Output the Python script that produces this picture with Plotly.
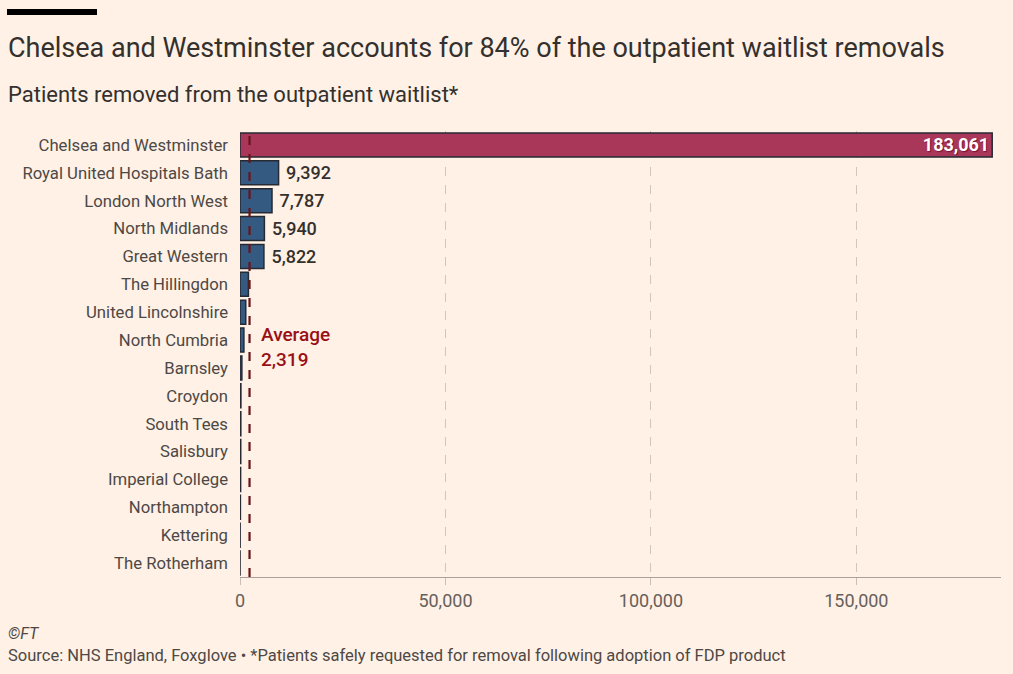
import plotly.graph_objects as go

# hospital trusts, ordered top to bottom as in the chart
trusts = ['Chelsea and Westminster', 'Royal United Hospitals Bath', 'London North West',
          'North Midlands', 'Great Western', 'The Hillingdon', 'United Lincolnshire',
          'North Cumbria', 'Barnsley', 'Croydon', 'South Tees', 'Salisbury',
          'Imperial College', 'Northampton', 'Kettering', 'The Rotherham']
# patients removed from the outpatient waitlist (small ones)
removed = [183061, 9392, 7787, 5940, 5822, 2050, 1400, 950, 450,
           220, 200, 180, 150, 100, 30, 10]
average = 2319
tick_vals = [0, 50000, 100000, 150000]

bg = '#fff1e5'
claret = '#a8375a'
blue = '#355a82'
font = 'Roboto'

colors = [claret] + [blue] * (len(trusts) - 1)
# leading space pushes the outside labels a bit off the bar ends
labels = [('{:,}' if i == 0 else ' {:,}').format(v) if i < 5 else '' for i, v in enumerate(removed)]
positions = ['inside'] + ['outside'] * (len(trusts) - 1)

fig = go.Figure(go.Bar(
    x=removed,
    y=trusts,
    orientation='h',
    marker=dict(color=colors, line=dict(color='#262a33', width=1.5)),
    width=0.86,
    text=labels,
    textposition=positions,
    insidetextanchor='end',
    constraintext='none',
    textfont=dict(family=font, size=18,
                  color=['white'] + ['#33302e'] * (len(trusts) - 1),
                  weight=[700] + [500] * (len(trusts) - 1),
                  shadow=['1px 1px 1px #7d1034'] + ['none'] * (len(trusts) - 1)),
    cliponaxis=False,
))

# average line, drawn over the bars
fig.add_shape(type='line', xref='x', yref='paper', x0=average, x1=average, y0=0, y1=1.0,
              line=dict(color='#6b1418', width=2.2, dash='dash'), layer='above')
fig.add_annotation(x=average, xref='x', xshift=9, y=7.25, yref='y', xanchor='left',
                   yanchor='middle', align='left', showarrow=False,
                   text='Average<br>{:,}'.format(average),
                   font=dict(family=font, size=19, color='#990f16', weight=500))

# black bar top left
fig.add_shape(type='rect', xref='paper', yref='paper', x0=-0.3062, x1=-0.1879,
              y0=1.2601, y1=1.2735, fillcolor='black', line_width=0)

left = -0.3075
fig.add_annotation(text='Chelsea and Westminster accounts for 84% of the outpatient waitlist removals',
                   xref='paper', yref='paper', x=left, y=1.186, xanchor='left', yanchor='middle',
                   showarrow=False, font=dict(family=font, size=27, color='#33302e'))
fig.add_annotation(text='Patients removed from the outpatient waitlist*',
                   xref='paper', yref='paper', x=left, y=1.081, xanchor='left', yanchor='middle',
                   showarrow=False, font=dict(family=font, size=22, color='#33302e'))
fig.add_annotation(text='<i>©FT</i>',
                   xref='paper', yref='paper', x=left, y=-0.1256, xanchor='left', yanchor='middle',
                   showarrow=False, font=dict(family=font, size=16, color='#4d4845'))
fig.add_annotation(text='Source: NHS England, Foxglove • *Patients safely requested for removal following adoption of FDP product',
                   xref='paper', yref='paper', x=left, y=-0.175, xanchor='left', yanchor='middle',
                   showarrow=False, font=dict(family=font, size=16.5, color='#4d4845'))

fig.update_layout(
    width=1013, height=674,
    paper_bgcolor=bg, plot_bgcolor=bg,
    margin=dict(l=240, r=12, t=131, b=97),
    showlegend=False,
    xaxis=dict(range=[0, 185200], tickvals=tick_vals, tickformat=',',
               showgrid=True, gridcolor='#d2c6bc', griddash='dash', gridwidth=1.3,
               zeroline=False, showline=True, linecolor='#a8a19b', linewidth=1,
               ticks='outside', ticklen=7, tickcolor='#c9bfb6',
               tickfont=dict(family=font, size=18, color='#66605c')),
    yaxis=dict(autorange='reversed', showgrid=False, zeroline=False,
               ticks='', ticklabelstandoff=11,
               tickfont=dict(family=font, size=16.7, color='#4d4845')),
)

fig.write_html('out.html', config={'displayModeBar': False},
               post_script="document.body.style.margin='0';")
